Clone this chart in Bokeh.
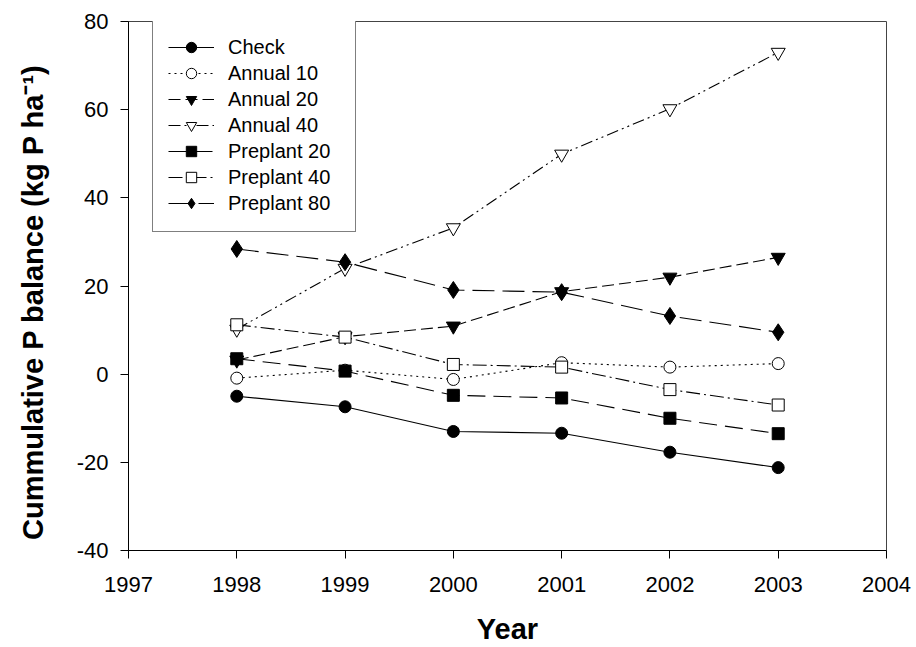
import math
from bokeh.plotting import figure
from bokeh.models import Range1d, FixedTicker, Legend, LegendItem, PrintfTickFormatter
from bokeh.embed import file_html
from bokeh.resources import INLINE

years = [1998, 1999, 2000, 2001, 2002, 2003]
check = [-5.0, -7.4, -13.0, -13.4, -17.7, -21.2]
annual10 = [-0.9, 0.9, -1.2, 2.6, 1.6, 2.4]
annual20 = [3.2, 8.5, 10.9, 18.7, 22.0, 26.5]
annual40 = [10.2, 24.0, 33.2, 49.9, 60.2, 73.0]
preplant20 = [3.5, 0.7, -4.8, -5.4, -10.0, -13.5]
preplant40 = [11.2, 8.4, 2.2, 1.6, -3.5, -7.0]
preplant80 = [28.4, 25.4, 19.1, 18.6, 13.2, 9.5]

x_ticks = [1997, 1998, 1999, 2000, 2001, 2002, 2003, 2004]
y_ticks = [-40, -20, 0, 20, 40, 60, 80]

FONT = "Liberation Sans"

p = figure(width=912, height=647, output_backend="svg", toolbar_location=None,
           x_range=Range1d(1997, 2004), y_range=Range1d(-40, 80),
           min_border_left=128, min_border_right=26, min_border_top=21, min_border_bottom=96)

p.xgrid.visible = False
p.ygrid.visible = False
p.outline_line_color = "#444444"
p.outline_line_width = 1
p.background_fill_color = "white"
p.border_fill_color = "white"

for ax in (p.xaxis[0], p.yaxis[0]):
    ax.axis_line_color = "black"
    ax.major_tick_line_color = "black"
    ax.minor_tick_line_color = None
    ax.major_tick_out = 8
    ax.major_tick_in = 0
    ax.major_label_text_font = FONT
    ax.major_label_text_font_size = "22px"
    ax.major_label_text_color = "black"
    ax.axis_label_text_font = FONT
    ax.axis_label_text_font_size = "29px"
    ax.axis_label_text_font_style = "bold"
    ax.axis_label_text_color = "black"

p.xaxis.ticker = FixedTicker(ticks=x_ticks)
p.yaxis.ticker = FixedTicker(ticks=y_ticks)
p.xaxis.formatter = PrintfTickFormatter(format="%d")
p.yaxis.formatter = PrintfTickFormatter(format="%d")
p.xaxis.major_label_standoff = 18
p.yaxis.major_label_standoff = 12
p.xaxis.axis_label = "Year"
p.xaxis.axis_label_standoff = 18
p.yaxis.axis_label = "Cummulative P balance (kg P ha\u207b\u00b9)" + "\u00a0" * 4
p.yaxis.axis_label_standoff = 25

series = [
    ("Check", check, "solid", "circle", 12, "black"),
    ("Annual 10", annual10, "2 4", "circle", 12, "white"),
    ("Annual 20", annual20, "12 5", "inverted_triangle", 14, "black"),
    ("Annual 40", annual40, "12 4 2 4 2 4", "inverted_triangle", 14, "white"),
    ("Preplant 20", preplant20, "18 8", "square", 12, "black"),
    ("Preplant 40", preplant40, "14 4 2 4", "square", 12, "white"),
    ("Preplant 80", preplant80, "22 8", "diamond", 17, "black"),
]

items = []
for name, vals, dash, marker, size, fill in series:
    r1 = p.line(years, vals, line_color="black", line_width=1.1, line_dash=dash)
    r2 = p.scatter(years, vals, marker=marker, size=size, fill_color=fill,
                   line_color="black", line_width=1)
    items.append(LegendItem(label=name, renderers=[r1, r2]))

legend = Legend(items=items, location=(24, 318))
legend.label_text_font = FONT
legend.label_text_font_size = "20px"
legend.label_text_color = "black"
legend.glyph_width = 46
legend.glyph_height = 26
legend.label_height = 26
legend.label_width = 112
legend.spacing = 0
legend.padding = 15
legend.margin = 0
legend.label_standoff = 14
legend.border_line_color = "black"
legend.border_line_width = 1
legend.background_fill_color = "white"
legend.background_fill_alpha = 1
p.add_layout(legend, "center")

open("out.html", "w").write(file_html(p, INLINE))
